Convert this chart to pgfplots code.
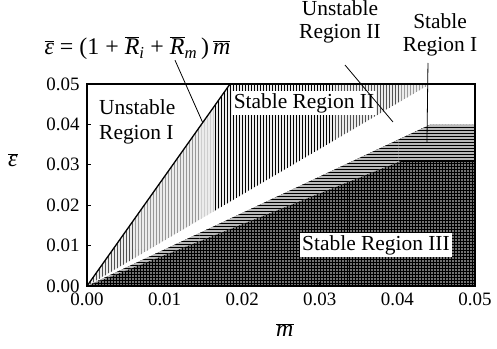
\documentclass[border=0pt]{standalone}
\usepackage{pgfplots}
\pgfplotsset{compat=1.18}
\usepackage{fontspec}
\setmainfont{Liberation Serif}
\usetikzlibrary{patterns}
\newcommand{\ov}[1]{$\overline{\mbox{\itshape #1}}$}
\begin{document}
\begin{tikzpicture}
\begin{axis}[
  name=ax, anchor=south west, at={(0,0)},
  scale only axis, width=388bp, height=202bp,
  xmin=0, xmax=0.05, ymin=0, ymax=0.05,
  scaled ticks=false,
  xtick={0,0.01,0.02,0.03,0.04,0.05},
  ytick={0,0.01,0.02,0.03,0.04,0.05},
  xticklabels={0.00,0.01,0.02,0.03,0.04,0.05},
  yticklabels={0.00,0.01,0.02,0.03,0.04,0.05},
  /pgf/number format/assume math mode=true,
  tick align=inside, tick style={black, line width=1pt},
  major tick length=4pt,
  xtick pos=bottom, ytick pos=left,
  ticklabel style={font=\fontsize{19}{21}\selectfont},
  yticklabel style={xshift=-4bp},
  xticklabel style={yshift=-3bp},
  axis line style={line width=1.6pt},
  clip=false,
  axis on top,
]
% Stable Region III (dark grid)
\addplot[draw=none, fill=black!55, postaction={pattern=grid}]
  coordinates {(0,0) (0.0442,0.0399) (0.05,0.0399) (0.05,0) (0,0)} -- cycle;
% Stable Region I (horizontal hatching band)
\addplot[draw=none, fill=gray!55, postaction={pattern=horizontal lines}]
  coordinates {(0,0) (0.0442,0.0399) (0.05,0.0399) (0.05,0.031) (0.0405,0.031) (0,0)} -- cycle;
% Stable Region II (vertical hatching)
\addplot[draw=none, fill=gray!15, postaction={pattern=vertical lines}]
  coordinates {(0,0) (0.01843,0.05) (0.0442,0.05) (0,0)} -- cycle;
% boundary line
\addplot[black, line width=1.3pt] coordinates {(0,0) (0.01843,0.05)};
% region labels
\node[anchor=west, align=left, font=\fontsize{21.5}{25}\selectfont, inner sep=1pt]
  at (axis cs:0.00142,0.0406) {Unstable\\Region I};
\node[fill=white, font=\fontsize{21.5}{25}\selectfont, inner sep=2pt]
  at (axis cs:0.02796,0.0453) {Stable Region II};
\node[fill=white, font=\fontsize{21.5}{25}\selectfont, inner sep=2pt]
  at (axis cs:0.03724,0.0101) {Stable Region III};
\node[align=center, font=\fontsize{21.5}{23}\selectfont, inner sep=0pt]
  at (axis cs:0.0326,0.0653) {Unstable\\Region II};
\node[align=center, font=\fontsize{21.5}{23}\selectfont, inner sep=0pt]
  at (axis cs:0.0455,0.0621) {Stable\\Region I};
\node[font=\fontsize{24}{26}\selectfont, inner sep=0pt]
  at (axis cs:0.0065,0.0589) {\ov{ε} = (1 + \ov{R}\textsubscript{\itshape i} + \ov{R}\textsubscript{\itshape m}\,)\,\ov{m}};
% leader lines
\draw[line width=0.8pt] (axis cs:0.01134,0.0559) -- (axis cs:0.0149,0.0405);
\draw[line width=0.8pt] (axis cs:0.03325,0.0547) -- (axis cs:0.03943,0.0406);
\draw[line width=0.8pt] (axis cs:0.04394,0.0552) -- (axis cs:0.04381,0.0354);
% axis labels
\node[font=\fontsize{24}{26}\selectfont] at (rel axis cs:-0.191,0.624) {\ov{ε}};
\node[font=\fontsize{24}{26}\selectfont] at (rel axis cs:0.51,-0.218) {\ov{m}};
\end{axis}
\pgfresetboundingbox
\path (-87bp,-63bp) rectangle (410bp,286bp);
\end{tikzpicture}
\end{document}
